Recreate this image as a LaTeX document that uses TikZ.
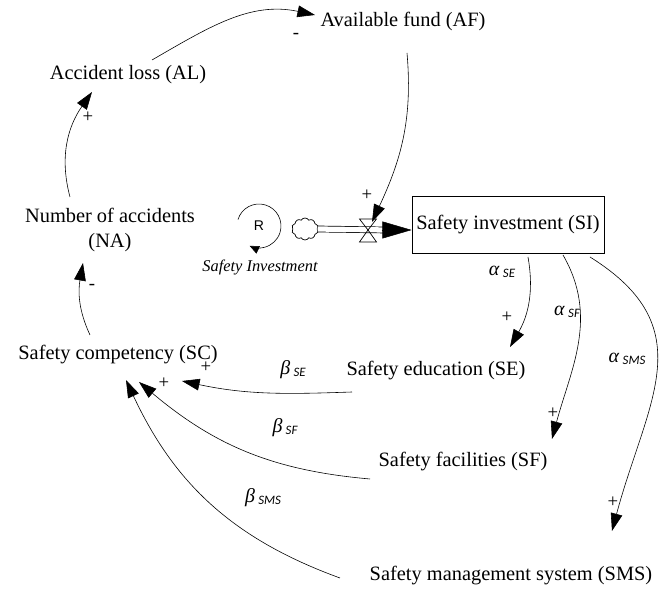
\documentclass[tikz,border=0pt]{standalone}
\usepackage{fontspec}
\setmainfont{Liberation Serif}
\setsansfont{Carlito}
\newfontfamily\loopfont{Liberation Sans}
\usetikzlibrary{arrows.meta,shapes.symbols}

\newcommand{\coef}[2]{\textit{#1}\,\raisebox{-1.5pt}{\sffamily\itshape\fontsize{11}{13}\selectfont #2}}

\begin{document}
\begin{tikzpicture}[x=0.03cm, y=0.03cm,
obj/.style={font=\fontsize{17.4}{22}\selectfont, inner sep=2pt},
stock/.style={obj, draw, line width=0.6pt, minimum width=5.76cm, minimum height=1.71cm},
sign/.style={font=\fontsize{16}{18}\selectfont, inner sep=0pt},
coeflabel/.style={font=\fontsize{17}{20}\selectfont, inner sep=0pt},
arrow/.style={-{Triangle[length=15pt,width=10pt]}, line width=0.5pt},
pipe/.style={double, double distance=4.5pt, line width=0.6pt},
flowtip/.style={-{Triangle[length=25pt,width=14.5pt]}},
valve/.style={line width=0.6pt},
cloudsrc/.style={cloud, cloud puffs=10, cloud puff arc=120, aspect=1.3, draw, line width=0.6pt, minimum width=0.8cm, minimum height=0.66cm, inner sep=0pt}
]

\useasboundingbox (0,0) rectangle (659,592);

\node[obj](AF) at (403,570) {Available fund (AF)};

\node[obj](AL) at (128,517) {Accident loss (AL)};

\node[obj, align=center](NA) at (110,362) {Number of accidents\\(NA)};

\node[stock](SI) at (508,367) {Safety investment (SI)};

\node[obj](SE) at (436,221) {Safety education (SE)};

\node[obj](SF) at (463,130) {Safety facilities (SF)};

\node[obj](SMS) at (511,16) {Safety management system (SMS)};

\node[obj](SC) at (118,237) {Safety competency (SC)};

% loop marker, cloud and valve
\node[font=\loopfont\fontsize{12}{14}\selectfont, inner sep=0pt](R) at (259,366) {R};

\draw[-{Triangle[length=8pt,width=7pt]}, line width=0.5pt] ([shift={(163:0.66cm)}]R.center) arc[start angle=163, end angle=-115, radius=0.66cm];

\node[font=\itshape\fontsize{14}{16}\selectfont](loopname) at (260,324) {Safety Investment};

\node[cloudsrc](src) at (305,363) {};

\coordinate (V) at (368,362);

\draw[pipe] (src.east) -- ([shift={(-26,-5)}]SI.west);

\draw[flowtip] ([shift={(-30,-5)}]SI.west) -- ([yshift=-0.15cm]SI.west);

\draw[valve] (V) -- ++(-8.5,11) -- ++(17,0) -- cycle;

\draw[valve] (V) -- ++(-8.5,-12) -- ++(17,0) -- cycle;

% feedback loop
\draw[arrow] ([shift={(24,15)}]AL.center) to[out=30,in=168] ([shift={(-88,7)}]AF.center);

\draw[arrow] ([shift={(4,-31)}]AF.center) to[out=-85,in=65] ([shift={(4,8)}]V);

\draw[arrow] ([shift={(-40,33)}]NA.center) to[out=105,in=-125] ([shift={(-36,-17)}]AL.center);

\draw[arrow] ([shift={(-28,20)}]SC.center) to[out=115,in=-100] ([shift={(-27,-33)}]NA.center);

% allocation of investment
\draw[arrow] ([shift={(20,-32)}]SI.center) to[out=-80,in=60] ([shift={(74,24)}]SE.center);

\draw[arrow] ([shift={(55,-30)}]SI.center) to[out=-60,in=75] ([shift={(89,23)}]SF.center);

\draw[arrow] ([shift={(82,-32)}]SI.center) to[out=-32,in=75,looseness=1.25] ([shift={(101,45)}]SMS.center);

% effect on competency
\draw[arrow] ([shift={(-84,-21)}]SE.center) to[out=182,in=-12] ([shift={(64,-26)}]SC.center);

\draw[arrow] ([shift={(-93,-17)}]SF.center) to[out=175,in=-40] ([shift={(21,-27)}]SC.center);

\draw[arrow] ([shift={(-171,-2)}]SMS.center) to[out=160,in=-65] ([shift={(8,-25)}]SC.center);

% coefficients
\node[coeflabel](aSE) at (502,320) {\coef{α}{SE}};

\node[coeflabel](aSF) at (567,280) {\coef{α}{SF}};

\node[coeflabel](aSMS) at (627,233) {\coef{α}{SMS}};

\node[coeflabel](bSE) at (293,222) {\coef{β}{SE}};

\node[coeflabel](bSF) at (285,164) {\coef{β}{SF}};

\node[coeflabel](bSMS) at (263,94) {\coef{β}{SMS}};

% polarities
\node[sign](pAL) at (88,475) {+};

\node[sign](mAF) at (296,556) {-};

\node[sign](pV) at (367,397) {+};

\node[sign](mNA) at (92,305) {-};

\node[sign](pSCa) at (164,209) {+};

\node[sign](pSCb) at (206,225) {+};

\node[sign](pSE) at (507,275) {+};

\node[sign](pSF) at (553,179) {+};

\node[sign](pSMS) at (613,90) {+};
\end{tikzpicture}
\end{document}
